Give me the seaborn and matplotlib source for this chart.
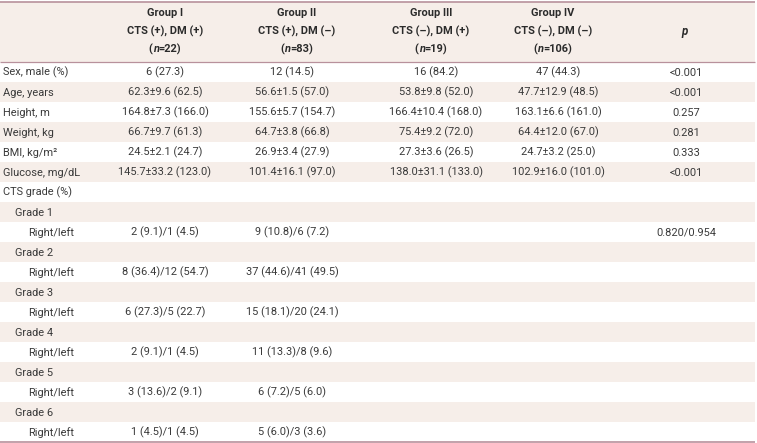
import matplotlib
matplotlib.use("Agg")
import matplotlib.pyplot as plt
import seaborn as sns

# ---------------- data ----------------
row_labels = ["Sex, male (%)", "Age, years", "Height, m", "Weight, kg", "BMI, kg/m\u00b2",
              "Glucose, mg/dL", "CTS grade (%)",
              "Grade 1", "Right/left", "Grade 2", "Right/left", "Grade 3", "Right/left",
              "Grade 4", "Right/left", "Grade 5", "Right/left", "Grade 6", "Right/left"]
row_indent = [0, 0, 0, 0, 0, 0, 0, 1, 2, 1, 2, 1, 2, 1, 2, 1, 2, 1, 2]

group_names = ["Group I", "Group II", "Group III", "Group IV"]
group_desc = ["CTS (+), DM (+)", "CTS (+), DM (\u2013)", "CTS (\u2013), DM (+)", "CTS (\u2013), DM (\u2013)"]
group_n = ["22", "83", "19", "106"]

group1 = ["6 (27.3)", "62.3\u00b19.6 (62.5)", "164.8\u00b17.3 (166.0)", "66.7\u00b19.7 (61.3)",
          "24.5\u00b12.1 (24.7)", "145.7\u00b133.2 (123.0)", "", "",
          "2 (9.1)/1 (4.5)", "", "8 (36.4)/12 (54.7)", "", "6 (27.3)/5 (22.7)", "",
          "2 (9.1)/1 (4.5)", "", "3 (13.6)/2 (9.1)", "", "1 (4.5)/1 (4.5)"]
group2 = ["12 (14.5)", "56.6\u00b11.5 (57.0)", "155.6\u00b15.7 (154.7)", "64.7\u00b13.8 (66.8)",
          "26.9\u00b13.4 (27.9)", "101.4\u00b116.1 (97.0)", "", "",
          "9 (10.8)/6 (7.2)", "", "37 (44.6)/41 (49.5)", "", "15 (18.1)/20 (24.1)", "",
          "11 (13.3)/8 (9.6)", "", "6 (7.2)/5 (6.0)", "", "5 (6.0)/3 (3.6)"]
group3 = ["16 (84.2)", "53.8\u00b19.8 (52.0)", "166.4\u00b110.4 (168.0)", "75.4\u00b19.2 (72.0)",
          "27.3\u00b13.6 (26.5)", "138.0\u00b131.1 (133.0)"] + [""] * 13
group4 = ["47 (44.3)", "47.7\u00b112.9 (48.5)", "163.1\u00b16.6 (161.0)", "64.4\u00b112.0 (67.0)",
          "24.7\u00b13.2 (25.0)", "102.9\u00b116.0 (101.0)"] + [""] * 13
p_values = ["<0.001", "<0.001", "0.257", "0.281", "0.333", "<0.001", "", "",
            "0.820/0.954"] + [""] * 10

# ---------------- style ----------------
sns.set_theme(style="white")
plt.rcParams["font.family"] = ["Roboto", "DejaVu Sans"]

W, H = 757, 443
fig = plt.figure(figsize=(W / 100, H / 100), dpi=100)
ax = fig.add_axes([0, 0, 1, 1])
ax.set_xlim(0, W)
ax.set_ylim(H, 0)
ax.axis("off")

shade = "#F6EEE9"
line_c = "#B8919C"
txt_c = "#3a3a3a"
hdr_c = "#2b2b2b"
fs = 7.9

table_right = 755
header_top, header_bot = 2, 62
row_h = 20

# header band
ax.barh([(header_top + header_bot) / 2], [table_right], height=header_bot - header_top,
        left=0, color=shade, edgecolor="none")
# alternating row bands
n_rows = len(row_labels)
row_centers = [header_bot + row_h * (i + 0.5) for i in range(n_rows)]
shaded = [c for i, c in enumerate(row_centers) if i % 2 == 1]
ax.barh(shaded, [table_right] * len(shaded), height=row_h, left=0, color=shade, edgecolor="none")

# rules
ax.plot([0, table_right], [header_top, header_top], color=line_c, lw=1.2, solid_capstyle="butt")
ax.plot([0, table_right], [header_bot, header_bot], color=line_c, lw=0.9, solid_capstyle="butt")
bottom = header_bot + row_h * n_rows
ax.plot([0, table_right], [bottom - 0.5, bottom - 0.5], color=line_c, lw=1.2, solid_capstyle="butt")

# header text
hdr_x = [165, 297, 431, 553]
fig.canvas.draw()
renderer = fig.canvas.get_renderer()
for x, name, desc, n in zip(hdr_x, group_names, group_desc, group_n):
    ax.text(x, 13, name, ha="center", va="center", fontsize=fs, fontweight="bold", color=hdr_c)
    ax.text(x, 31, desc, ha="center", va="center", fontsize=fs, fontweight="bold", color=hdr_c)
    # "(n=XX)" with italic n
    parts = [("(", "normal"), ("n", "italic"), ("=" + n + ")", "normal")]
    objs = [ax.text(0, 49, s, ha="left", va="center", fontsize=fs, fontweight="bold",
                    style=st, color=hdr_c) for s, st in parts]
    widths = [o.get_window_extent(renderer).width for o in objs]
    total = sum(widths)
    cur = x - total / 2
    for o, w in zip(objs, widths):
        o.set_x(cur)
        cur += w
ax.text(685, 31, "p", ha="center", va="center", fontsize=fs + 0.5, fontweight="bold",
        style="italic", color=hdr_c)

# body text
indent_x = [3, 15, 28]
data_x = [165, 292, 436, 558, 686]
for i, (lab, ind) in enumerate(zip(row_labels, row_indent)):
    y = row_centers[i] + 0.5
    ax.text(indent_x[ind], y, lab, ha="left", va="center", fontsize=fs, color=txt_c)
    for x, col in zip(data_x, [group1, group2, group3, group4, p_values]):
        if col[i]:
            ax.text(x, y, col[i], ha="center", va="center", fontsize=fs, color=txt_c)

fig.savefig("out.png", dpi=100)
